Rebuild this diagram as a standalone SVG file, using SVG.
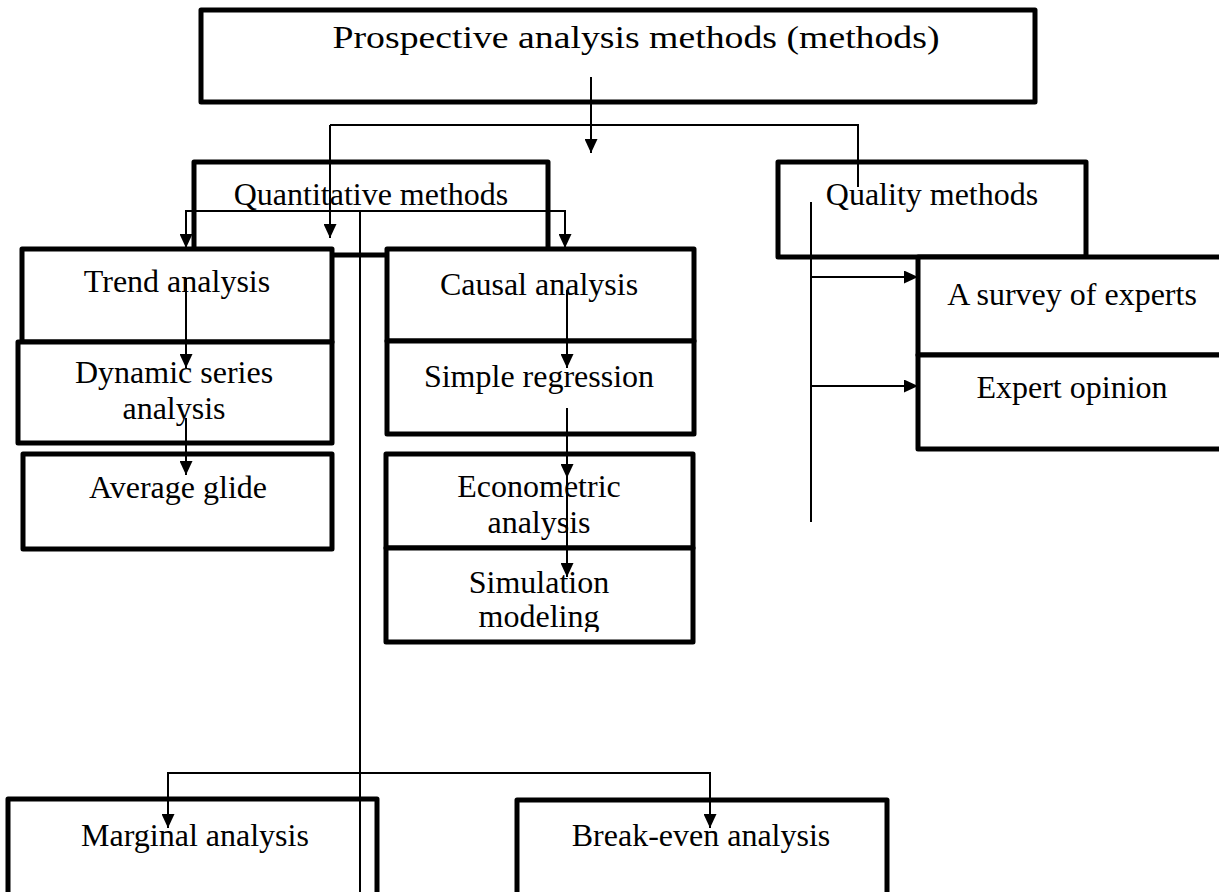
<svg xmlns="http://www.w3.org/2000/svg" width="1219" height="892" viewBox="0 0 1219 892">
<style>
.box{fill:#fff;stroke:#000;stroke-width:5;stroke-linejoin:round}
.t{font-family:"Liberation Serif","Times New Roman",serif;font-size:32px;fill:#000;text-anchor:middle}
.c{fill:none;stroke:#000;stroke-width:2}
.ca{fill:none;stroke:#000;stroke-width:2;marker-end:url(#ah)}
.cb{fill:none;stroke:#000;stroke-width:2;marker-start:url(#ah);marker-end:url(#ah)}
</style>
<defs>
<marker id="ah" viewBox="0 0 14 13" refX="14" refY="6.5" markerWidth="14" markerHeight="13" markerUnits="userSpaceOnUse" orient="auto-start-reverse">
<path d="M0,0 L14,6.5 L0,13 Z" fill="#000"/>
</marker>
<clipPath id="simclip"><rect x="380" y="548" width="320" height="84"/></clipPath>
</defs>
<rect width="1219" height="892" fill="#fff"/>
<g id="n-title">
<rect class="box" x="201" y="10" width="834" height="92"/>
<text class="t" x="636" y="48" font-size="29" textLength="607" lengthAdjust="spacingAndGlyphs">Prospective analysis methods (methods)</text>
</g>
<g id="n-quant">
<rect class="box" x="194" y="162" width="354" height="93"/>
<text class="t" x="371" y="205">Quantitative methods</text>
</g>
<g id="n-quality">
<rect class="box" x="778" y="162" width="308" height="95"/>
<text class="t" x="932" y="205">Quality methods</text>
</g>
<g id="n-trend">
<rect class="box" x="22" y="249" width="310" height="93"/>
<text class="t" x="177" y="292">Trend analysis</text>
</g>
<g id="n-dynamic">
<rect class="box" x="18" y="342" width="314" height="101"/>
<text class="t" x="174" y="383">Dynamic series</text>
<text class="t" x="174" y="419">analysis</text>
</g>
<g id="n-average">
<rect class="box" x="23" y="454" width="309" height="95"/>
<text class="t" x="178" y="498">Average glide</text>
</g>
<g id="n-causal">
<rect class="box" x="387" y="249" width="307" height="92"/>
<text class="t" x="539" y="295">Causal analysis</text>
</g>
<g id="n-simple">
<rect class="box" x="387" y="341" width="307" height="93"/>
<text class="t" x="539" y="387">Simple regression</text>
</g>
<g id="n-econ">
<rect class="box" x="386" y="454" width="307" height="94"/>
<text class="t" x="539" y="497">Econometric</text>
<text class="t" x="539" y="533">analysis</text>
</g>
<g id="n-sim">
<rect class="box" x="386" y="548" width="307" height="94"/>
<g clip-path="url(#simclip)">
<text class="t" x="539" y="593">Simulation</text>
<text class="t" x="539" y="627">modeling</text>
</g>
</g>
<g id="n-survey">
<rect class="box" x="918" y="257" width="320" height="98"/>
<text class="t" x="1072" y="305">A survey of experts</text>
</g>
<g id="n-expert">
<rect class="box" x="918" y="355" width="320" height="94"/>
<text class="t" x="1072" y="398">Expert opinion</text>
</g>
<g id="n-marginal">
<rect class="box" x="8" y="799" width="369" height="110"/>
<text class="t" x="195" y="846">Marginal analysis</text>
</g>
<g id="n-breakeven">
<rect class="box" x="517" y="800" width="370" height="110"/>
<text class="t" x="701" y="846">Break-even analysis</text>
</g>
<g id="connectors">
<path class="ca" d="M591,77 V153"/>
<path class="c" d="M330,125 H858 V187"/>
<path class="ca" d="M330,125 V238"/>
<path class="cb" d="M186,248 V211 H565 V248"/>
<path class="c" d="M360,211 V892"/>
<path class="ca" d="M186,278 V368"/>
<path class="ca" d="M186,418 V475"/>
<path class="ca" d="M567,290 V368"/>
<path class="ca" d="M567,408 V478"/>
<path class="ca" d="M567,478 V577"/>
<path class="c" d="M811,202 V522"/>
<path class="ca" d="M811,277 H918"/>
<path class="ca" d="M811,386 H918"/>
<path class="cb" d="M168,828 V773 H710 V828"/>
</g>
</svg>
